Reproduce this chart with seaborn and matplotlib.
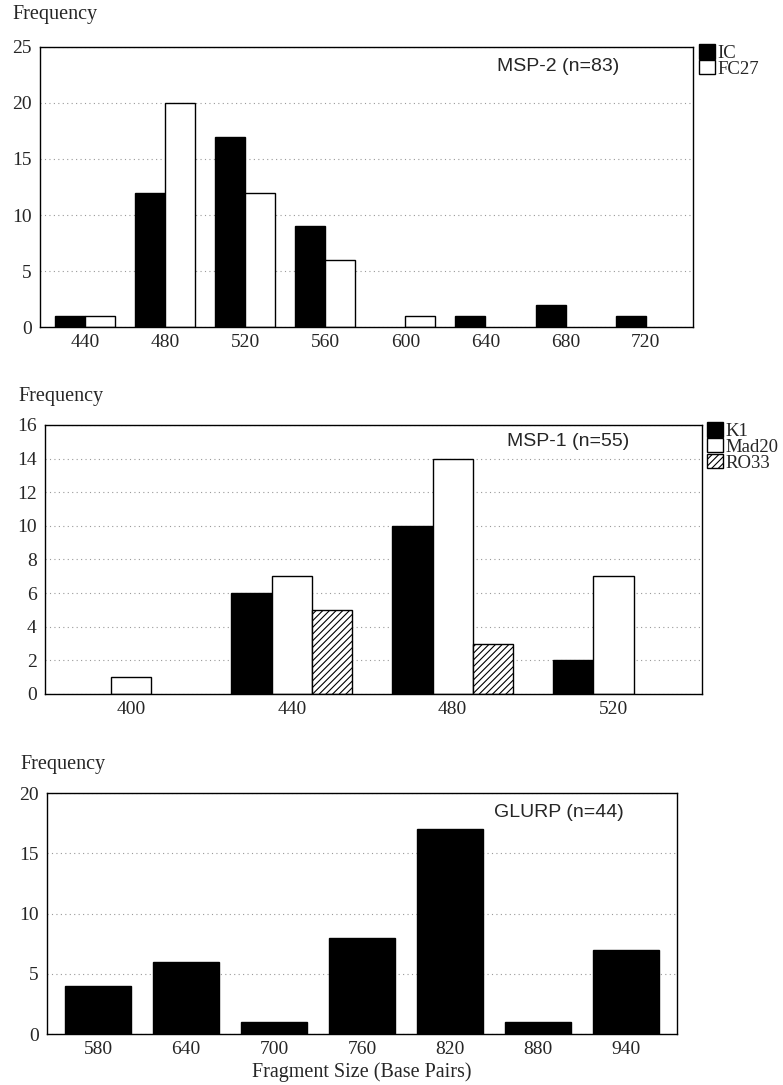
import matplotlib
matplotlib.use("Agg")
import matplotlib.pyplot as plt
from matplotlib.patches import Patch
from matplotlib.ticker import MultipleLocator
import pandas as pd
import seaborn as sns

# MSP-2
MSP2_SIZES = ["440", "480", "520", "560", "600", "640", "680", "720"]
MSP2_IC = [1, 12, 17, 9, 0, 1, 2, 1]
MSP2_FC27 = [1, 20, 12, 6, 1, 0, 0, 0]

# MSP-1
MSP1_SIZES = ["400", "440", "480", "520"]
MSP1_K1 = [0, 6, 10, 2]
MSP1_MAD20 = [1, 7, 14, 7]
MSP1_RO33 = [0, 5, 3, 0]

# GLURP
GLURP_SIZES = ["580", "640", "700", "760", "820", "880", "940"]
GLURP_COUNTS = [4, 6, 1, 8, 17, 1, 7]

SERIF = "Liberation Serif"
SANS = "Liberation Sans"
STYLES = {
    "IC": dict(facecolor="black", hatch=None),
    "FC27": dict(facecolor="white", hatch=None),
    "K1": dict(facecolor="black", hatch=None),
    "Mad20": dict(facecolor="white", hatch=None),
    "RO33": dict(facecolor="white", hatch="/////"),
}


def long_df(sizes, series):
    rows = []
    for name, vals in series.items():
        for s, v in zip(sizes, vals):
            rows.append({"size": s, "group": name, "count": v})
    return pd.DataFrame(rows)


def style_axes(ax, ymax, ystep, xlim, label, label_xy):
    ax.set_ylim(0, ymax)
    ax.set_xlim(*xlim)
    ax.yaxis.set_major_locator(MultipleLocator(ystep))
    ax.yaxis.set_minor_locator(MultipleLocator(ystep / 2))
    ax.grid(axis="y", which="major", color="#9a9a9a", linestyle=(0, (1, 3)), linewidth=0.8)
    ax.set_axisbelow(True)
    ax.tick_params(axis="y", which="major", direction="in", length=3, width=0.8, pad=6)
    ax.tick_params(axis="y", which="minor", direction="in", length=2, width=0.6)
    ax.tick_params(axis="x", length=0, pad=5)
    for lab in ax.get_xticklabels() + ax.get_yticklabels():
        lab.set_fontfamily(SERIF)
        lab.set_fontsize(14)
    for sp in ax.spines.values():
        sp.set_color("black")
        sp.set_linewidth(1.0)
    ax.set_xlabel("")
    ax.set_ylabel("")
    ax.text(label_xy[0], label_xy[1], label, transform=ax.transAxes,
            fontfamily=SANS, fontsize=14, va="center", ha="left")


def grouped(ax, sizes, series, width, gap_x):
    df = long_df(sizes, series)
    names = list(series.keys())
    sns.barplot(data=df, x="size", y="count", hue="group", order=sizes,
                hue_order=names, width=width, dodge=True, gap=0,
                errorbar=None, ax=ax, legend=False, linewidth=1.0,
                edgecolor="black")
    for cont, name in zip(ax.containers, names):
        for bar in cont:
            bar.set_facecolor(STYLES[name]["facecolor"])
            bar.set_edgecolor("black")
            if STYLES[name]["hatch"]:
                bar.set_hatch(STYLES[name]["hatch"])
            if bar.get_height() == 0:
                bar.set_visible(False)
    handles = [Patch(facecolor=STYLES[n]["facecolor"], edgecolor="black",
                     hatch=STYLES[n]["hatch"], label=n) for n in names]
    ax.legend(handles=handles, loc="upper left", bbox_to_anchor=(gap_x, 1.01),
              frameon=False, prop={"family": SERIF, "size": 13.5},
              handlelength=0.85, handleheight=0.8, handletextpad=0.1,
              labelspacing=-0.1, borderaxespad=0, borderpad=0)


def main():
    sns.set_theme(style="white")
    plt.rcParams["hatch.linewidth"] = 0.8
    fig = plt.figure(figsize=(7.83, 10.85), dpi=100)

    ax1 = fig.add_axes([0.051, 0.6986, 0.834, 0.2581])
    grouped(ax1, MSP2_SIZES, {"IC": MSP2_IC, "FC27": MSP2_FC27}, 0.75, 1.01)
    style_axes(ax1, 25, 5, (-0.5625, 7.59), "MSP-2 (n=83)", (0.70, 0.93))

    ax2 = fig.add_axes([0.0575, 0.3604, 0.8391, 0.2479])
    grouped(ax2, MSP1_SIZES,
            {"K1": MSP1_K1, "Mad20": MSP1_MAD20, "RO33": MSP1_RO33}, 0.75, 1.008)
    style_axes(ax2, 16, 2, (-0.534, 3.55), "MSP-1 (n=55)", (0.703, 0.937))
    ax2.yaxis.set_minor_locator(MultipleLocator(1))

    ax3 = fig.add_axes([0.060, 0.047, 0.8046, 0.2221])
    sns.barplot(x=GLURP_SIZES, y=GLURP_COUNTS, order=GLURP_SIZES, color="black",
                saturation=1, width=0.75, errorbar=None, ax=ax3,
                edgecolor="black", linewidth=1.0)
    style_axes(ax3, 20, 5, (-0.58, 6.58), "GLURP (n=44)", (0.71, 0.92))
    ax3.set_xlabel("Fragment Size (Base Pairs)", fontfamily=SERIF, fontsize=14.5,
                   labelpad=3)

    for y, x in [(15, 12), (397, 18), (765, 20)]:
        fig.text(x / 783, 1 - y / 1085, "Frequency", fontfamily=SERIF,
                 fontsize=14.5, va="center", ha="left")

    fig.savefig("out.png", dpi=100)
    plt.close(fig)


if __name__ == "__main__":
    main()
